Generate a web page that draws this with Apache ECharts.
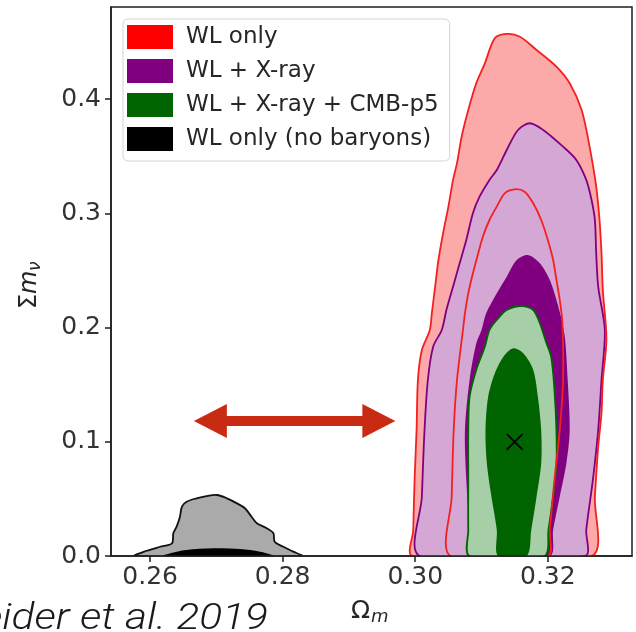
<!DOCTYPE html>
<html>
<head>
<meta charset="utf-8">
<script src="https://cdn.jsdelivr.net/npm/echarts@6/dist/echarts.min.js"></script>
<style>
  html, body { margin: 0; padding: 0; background: #fff; }
  #chart { width: 636px; height: 632px; }
</style>
</head>
<body>
<div id="chart"></div>
<script>
// Confidence contours in the (Omega_m, sum m_nu) plane, each a closed outline of [Omega_m, sum m_nu] pairs
const wlOuter = [[0.2996,0],[0.2997,0.0228],[0.2999,0.0666],[0.3002,0.1103],[0.3004,0.1541],[0.3010,0.1804],[0.3022,0.1979],[0.3025,0.2125],[0.3030,0.2358],[0.3035,0.2592],[0.3042,0.2826],[0.3050,0.3059],[0.3057,0.3293],[0.3063,0.3440],[0.3070,0.3672],[0.3080,0.3905],[0.3092,0.4139],[0.3105,0.4314],[0.3120,0.4533],[0.3138,0.4571],[0.3158,0.4547],[0.3183,0.4431],[0.3213,0.4285],[0.3233,0.4139],[0.3251,0.3905],[0.3263,0.3584],[0.3273,0.3234],[0.3278,0.2942],[0.3281,0.2651],[0.3283,0.2329],[0.3288,0.1979],[0.3288,0.1833],[0.3283,0.1541],[0.3281,0.1252],[0.3276,0.0957],[0.3271,0.0519],[0.3266,0]];
const wlInner = [[0.3053,0],[0.3055,0.0519],[0.3058,0.1103],[0.3063,0.1541],[0.3072,0.1979],[0.3075,0.2125],[0.3080,0.2300],[0.3087,0.2475],[0.3095,0.2651],[0.3102,0.2796],[0.3112,0.2942],[0.3123,0.3059],[0.3135,0.3176],[0.3150,0.3211],[0.3165,0.3190],[0.3178,0.3088],[0.3190,0.2942],[0.3200,0.2767],[0.3208,0.2592],[0.3213,0.2417],[0.3218,0.2242],[0.3222,0.2040],[0.3223,0.1541],[0.3218,0.1103],[0.3210,0.0666],[0.3203,0.0228],[0.3200,0]];
const xrayOuter = [[0.3007,0],[0.3010,0.0519],[0.3014,0.1103],[0.3019,0.1541],[0.3027,0.1833],[0.3040,0.1979],[0.3047,0.2154],[0.3057,0.2358],[0.3067,0.2563],[0.3077,0.2767],[0.3087,0.3001],[0.3097,0.3146],[0.3112,0.3293],[0.3123,0.3380],[0.3138,0.3555],[0.3155,0.3730],[0.3173,0.3789],[0.3193,0.3730],[0.3223,0.3584],[0.3243,0.3468],[0.3258,0.3293],[0.3266,0.3117],[0.3271,0.2942],[0.3273,0.2651],[0.3276,0.2358],[0.3286,0.1979],[0.3281,0.1541],[0.3276,0.1103],[0.3268,0.0666],[0.3258,0.0228],[0.3256,0]];
const xrayInner = [[0.3085,0],[0.3082,0.0228],[0.3077,0.0666],[0.3075,0.1103],[0.3082,0.1541],[0.3092,0.1860],[0.3100,0.1979],[0.3107,0.2125],[0.3123,0.2300],[0.3138,0.2446],[0.3153,0.2592],[0.3170,0.2636],[0.3188,0.2563],[0.3203,0.2417],[0.3213,0.2242],[0.3221,0.2067],[0.3226,0.1900],[0.3230,0.1541],[0.3233,0.1103],[0.3228,0.0812],[0.3218,0.0519],[0.3208,0.0228],[0.3203,0]];
const cmbOuter = [[0.3082,0],[0.3080,0.0228],[0.3080,0.0666],[0.3080,0.1103],[0.3082,0.1395],[0.3092,0.1629],[0.3105,0.1833],[0.3112,0.1979],[0.3123,0.2067],[0.3138,0.2154],[0.3160,0.2189],[0.3178,0.2154],[0.3188,0.2038],[0.3197,0.1880],[0.3205,0.1745],[0.3210,0.1454],[0.3213,0.1103],[0.3213,0.0812],[0.3208,0.0519],[0.3201,0.0228],[0.3195,0]];
const cmbInner = [[0.3125,0],[0.3123,0.0228],[0.3115,0.0519],[0.3108,0.0812],[0.3106,0.1103],[0.3110,0.1395],[0.3120,0.1600],[0.3133,0.1745],[0.3148,0.1819],[0.3163,0.1775],[0.3178,0.1629],[0.3185,0.1395],[0.3190,0.1103],[0.3190,0.0812],[0.3183,0.0519],[0.3175,0.0228],[0.3168,0]];
const noBaryonOuter = [[0.2577,0],[0.2595,0.0046],[0.2615,0.0081],[0.2633,0.0111],[0.2635,0.0199],[0.2640,0.0257],[0.2645,0.0344],[0.2648,0.0432],[0.2655,0.0475],[0.2670,0.0505],[0.2685,0.0525],[0.2701,0.0534],[0.2716,0.0505],[0.2731,0.0461],[0.2743,0.0418],[0.2753,0.0344],[0.2761,0.0286],[0.2776,0.0243],[0.2786,0.0199],[0.2788,0.0125],[0.2801,0.0081],[0.2816,0.0038],[0.2829,0]];
const noBaryonInner = [[0.2620,0],[0.2638,0.0035],[0.2655,0.0053],[0.2695,0.0067],[0.2736,0.0061],[0.2766,0.0038],[0.2786,0]];
const bestFit = [[0.315, 0.1]];
const shiftArrow = [[0.2666, 0.1182, 0.2970]];
const xTicks = [0.26, 0.28, 0.30, 0.32];
const yTicks = [0, 0.1, 0.2, 0.3, 0.4];
const legendNames = ['WL only', 'WL + X-ray', 'WL + X-ray + CMB-p5', 'WL only (no baryons)'];
const legendColors = ['#ff0000', '#800080', '#006400', '#000000'];

const FONT = "'DejaVu Sans', sans-serif";
const AXIS_COLOR = '#1e1e1e';

// one custom series draws a list of closed outlines through the cartesian axes
function contourSeries(name, layers, color) {
  return {
    type: 'custom',
    name: name,
    coordinateSystem: 'cartesian2d',
    silent: true,
    clip: true,
    itemStyle: { color: color },
    data: [layers[0].pts[0]],
    renderItem: function (params, api) {
      return {
        type: 'group',
        children: layers.map(function (l) {
          return {
            type: 'polygon',
            shape: { points: l.pts.map(function (p) { return api.coord(p); }), smooth: 0.3 },
            style: { fill: l.fill || 'none', stroke: l.stroke || 'none', lineWidth: l.width || 0 }
          };
        })
      };
    }
  };
}

const chart = echarts.init(document.getElementById('chart'), null, { renderer: 'canvas' });

chart.setOption({
  animation: false,
  backgroundColor: '#ffffff',
  grid: {
    left: 111, right: 4, top: 7, bottom: 76,
    show: true, borderColor: AXIS_COLOR, borderWidth: 1.5, backgroundColor: 'transparent'
  },
  legend: {
    orient: 'vertical',
    left: 123, top: 19,
    itemWidth: 46, itemHeight: 24, itemGap: 10,
    padding: [6, 11, 10, 4],
    backgroundColor: 'rgba(255,255,255,0.85)',
    borderColor: '#d4d4d4', borderWidth: 1, borderRadius: 5,
    icon: 'rect',
    selectedMode: false,
    textStyle: { fontFamily: FONT, fontSize: 23, color: '#262626', padding: [0, 0, 0, 8] },
    data: legendNames.map(function (n, i) {
      return { name: n, icon: 'rect', itemStyle: { color: legendColors[i], borderWidth: 0 } };
    })
  },
  xAxis: {
    type: 'value', min: 0.2541, max: 0.3327, z: 10,
    splitLine: { show: false },
    axisLine: { show: true, onZero: false, lineStyle: { color: AXIS_COLOR, width: 1.5 } },
    axisTick: { show: true, customValues: xTicks, length: 6, lineStyle: { color: AXIS_COLOR, width: 1.5 } },
    axisLabel: {
      customValues: xTicks, margin: 9,
      fontFamily: FONT, fontSize: 25, color: '#333333',
      formatter: function (v) { return v.toFixed(2); }
    }
  },
  yAxis: {
    type: 'value', min: 0, max: 0.4807, z: 10,
    splitLine: { show: false },
    axisLine: { show: true, onZero: false, lineStyle: { color: AXIS_COLOR, width: 1.5 } },
    axisTick: { show: true, customValues: yTicks, length: 6, lineStyle: { color: AXIS_COLOR, width: 1.5 } },
    axisLabel: {
      customValues: yTicks, margin: 10,
      fontFamily: FONT, fontSize: 25, color: '#333333',
      formatter: function (v) { return v.toFixed(1); }
    }
  },
  series: [
    contourSeries('WL only', [{ pts: wlOuter, fill: '#fba9a9' }], legendColors[0]),
    contourSeries('WL + X-ray', [
      { pts: xrayOuter, fill: '#d4a7d4', stroke: '#800080', width: 1.8 },
      { pts: xrayInner, fill: '#800080' }
    ], legendColors[1]),
    contourSeries('WL + X-ray + CMB-p5', [
      { pts: cmbOuter, fill: '#a7cfa7', stroke: '#006400', width: 1.8 },
      { pts: cmbInner, fill: '#006400' }
    ], legendColors[2]),
    contourSeries('WL only', [
      { pts: wlOuter, stroke: '#f42020', width: 1.8 },
      { pts: wlInner, stroke: '#f42020', width: 1.8 }
    ], legendColors[0]),
    contourSeries('WL only (no baryons)', [
      { pts: noBaryonOuter, fill: '#aaaaaa', stroke: '#111111', width: 1.8 },
      { pts: noBaryonInner, fill: '#000000' }
    ], legendColors[3]),
    {
      // best-fit cross
      type: 'custom', name: 'best fit', coordinateSystem: 'cartesian2d', silent: true,
      data: bestFit,
      renderItem: function (params, api) {
        const c = api.coord([api.value(0), api.value(1)]);
        const h = 8;
        const st = { stroke: '#000', lineWidth: 1.8 };
        return {
          type: 'group',
          children: [
            { type: 'line', shape: { x1: c[0] - h, y1: c[1] - h, x2: c[0] + h, y2: c[1] + h }, style: st },
            { type: 'line', shape: { x1: c[0] - h, y1: c[1] + h, x2: c[0] + h, y2: c[1] - h }, style: st }
          ]
        };
      }
    },
    {
      // double-headed arrow marking the shift in Omega_m
      type: 'custom', name: 'shift', coordinateSystem: 'cartesian2d', silent: true,
      data: shiftArrow,
      renderItem: function (params, api) {
        const a = api.coord([api.value(0), api.value(1)]);
        const b = api.coord([api.value(2), api.value(1)]);
        const y = a[1], hl = 33, hh = 17, sw = 5;
        return {
          type: 'polygon',
          shape: { points: [
            [a[0], y], [a[0] + hl, y - hh], [a[0] + hl, y - sw], [b[0] - hl, y - sw],
            [b[0] - hl, y - hh], [b[0], y], [b[0] - hl, y + hh], [b[0] - hl, y + sw],
            [a[0] + hl, y + sw], [a[0] + hl, y + hh]
          ] },
          style: { fill: '#c92b12' }
        };
      }
    }
  ],
  graphic: [
    {
      type: 'group', x: 30, y: 284, rotation: Math.PI / 2,
      children: [
        { type: 'text', x: -25, y: 0, style: { text: 'Σ', font: "24px 'DejaVu Sans'", fill: '#262626', verticalAlign: 'middle', align: 'left' } },
        { type: 'text', x: -10, y: 0, style: { text: 'm', font: "italic 24px 'DejaVu Sans'", fill: '#262626', verticalAlign: 'middle', align: 'left' } },
        { type: 'text', x: 13, y: 6, style: { text: 'ν', font: "italic 17px 'DejaVu Sans'", fill: '#262626', verticalAlign: 'middle', align: 'left' } }
      ]
    },
    {
      type: 'group', x: 351, y: 611,
      children: [
        { type: 'text', x: 0, y: 0, style: { text: 'Ω', font: "25px 'DejaVu Sans'", fill: '#262626', verticalAlign: 'middle', align: 'left' } },
        { type: 'text', x: 20, y: 6, style: { text: 'm', font: "italic 18px 'DejaVu Sans'", fill: '#262626', verticalAlign: 'middle', align: 'left' } }
      ]
    },
    {
      type: 'text', x: 268, y: 638, scaleX: 1.15,
      style: { text: 'Schneider et al. 2019', font: "italic 300 37px Roboto, 'Liberation Sans', sans-serif", fill: '#1a1a1a', align: 'right', verticalAlign: 'bottom' }
    }
  ]
});
</script>
</body>
</html>
